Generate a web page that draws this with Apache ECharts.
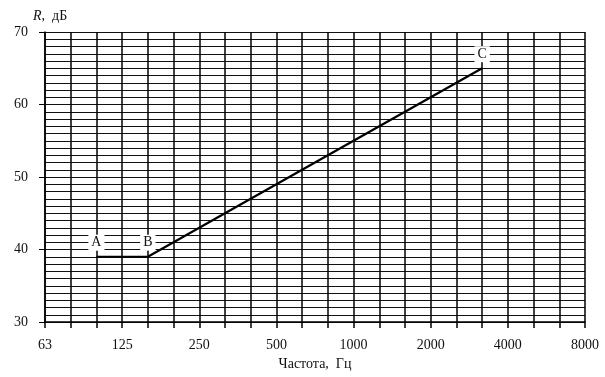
<!DOCTYPE html>
<html>
<head>
<meta charset="utf-8">
<script src="https://cdn.jsdelivr.net/npm/echarts@6/dist/echarts.min.js"></script>
<style>
  html, body { margin: 0; padding: 0; background: #fff; }
  #chart { width: 605px; height: 377px; }
</style>
</head>
<body>
<div id="chart"></div>
<script>
// третьоктавные полосы 63..8000 Гц
const bands = ['63','80','100','125','160','200','250','315','400','500','630','800',
  '1000','1250','1600','2000','2500','3150','4000','5000','6300','8000'];
// подписи только на октавах
const octaveLabels = ['63','125','250','500','1000','2000','4000','8000'];

// кривая A-B-C
const pointFreq = ['100', '160', '3150'];
const pointR = [39, 39, 65];
const pointNames = ['A', 'B', 'C'];

const font = 'Liberation Serif';
const chart = echarts.init(document.getElementById('chart'));

const option = {
  animation: false,
  backgroundColor: '#fff',
  textStyle: { fontFamily: font },
  title: {
    text: '{i|R},  дБ',
    left: 28, top: 4,
    textStyle: {
      fontFamily: font, fontSize: 14, fontWeight: 'normal', color: '#111',
      rich: { i: { fontFamily: font, fontStyle: 'italic', fontSize: 14, color: '#111' } }
    }
  },
  grid: { left: 45, right: 20, top: 32, bottom: 55 },
  xAxis: {
    type: 'category',
    data: bands,
    boundaryGap: false,
    name: 'Частота,  Гц',
    nameLocation: 'middle',
    nameGap: 35,
    nameTextStyle: { fontFamily: font, fontSize: 14, color: '#111' },
    axisLine: { lineStyle: { color: '#000', width: 1.5 } },
    axisTick: { show: true, length: 6, interval: 0, lineStyle: { color: '#000', width: 1.5 } },
    axisLabel: {
      interval: 0, margin: 16, fontFamily: font, fontSize: 14, color: '#111',
      formatter: v => octaveLabels.includes(v) ? v : ''
    },
    splitLine: { show: true, interval: 0, lineStyle: { color: '#000', width: 1.5 } }
  },
  yAxis: [
    {
      type: 'value', min: 30, max: 70, interval: 1,
      axisLine: { show: true, lineStyle: { color: '#000', width: 1.5 } },
      axisTick: { show: false },
      axisLabel: { show: false },
      splitLine: { show: true, lineStyle: { color: '#111', width: 1 } }
    },
    {
      type: 'value', min: 30, max: 70, interval: 10, position: 'left',
      axisLine: { show: false },
      axisTick: { show: true, length: 6, lineStyle: { color: '#000', width: 1 } },
      axisLabel: { margin: 17, fontFamily: font, fontSize: 14, color: '#111' },
      splitLine: { show: false }
    }
  ],
  series: [{
    type: 'line',
    yAxisIndex: 0,
    data: pointFreq.map((f, i) => ({ value: [f, pointR[i]], name: pointNames[i] })),
    symbol: 'circle',
    symbolSize: 0.1,
    showSymbol: true,
    itemStyle: { color: '#000' },
    lineStyle: { color: '#000', width: 2.2 },
    label: {
      show: true, position: 'top', distance: 6,
      formatter: p => p.data.name,
      fontFamily: font, fontSize: 14, color: '#111',
      backgroundColor: '#fff', padding: [1, 3]
    }
  }]
};

chart.setOption(option);
</script>
</body>
</html>
